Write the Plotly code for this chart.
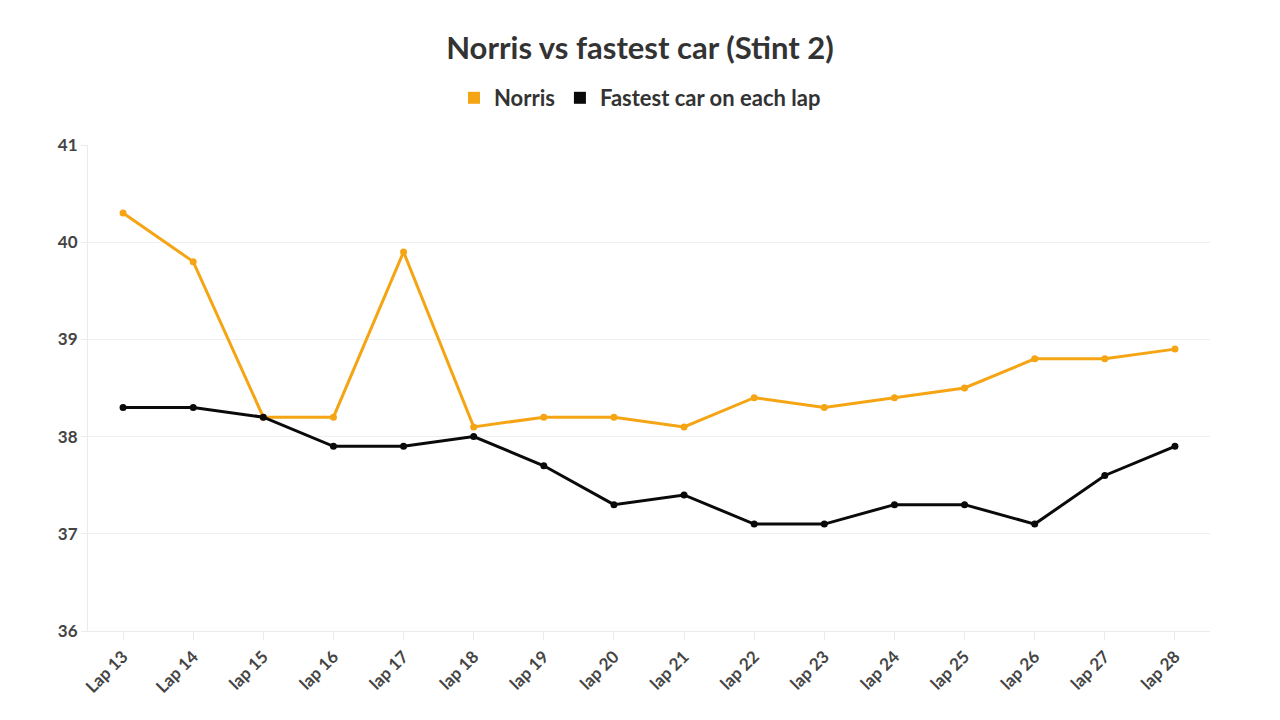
import plotly.graph_objects as go

laps = ["Lap 13", "Lap 14", "lap 15", "lap 16", "lap 17", "lap 18", "lap 19", "lap 20",
        "lap 21", "lap 22", "lap 23", "lap 24", "lap 25", "lap 26", "lap 27", "lap 28"]
norris = [40.3, 39.8, 38.2, 38.2, 39.9, 38.1, 38.2, 38.2, 38.1, 38.4, 38.3, 38.4, 38.5, 38.8, 38.8, 38.9]
fastest = [38.3, 38.3, 38.2, 37.9, 37.9, 38.0, 37.7, 37.3, 37.4, 37.1, 37.1, 37.3, 37.3, 37.1, 37.6, 37.9]
y_ticks = [36, 37, 38, 39, 40, 41]

ORANGE = "#F5A514"
BLACK = "#0a0a0a"
FONT = "Lato"

fig = go.Figure()
fig.add_trace(go.Scatter(x=laps, y=norris, mode="lines+markers", name="Norris",
                         line=dict(color=ORANGE, width=3), marker=dict(size=7, color=ORANGE),
                         showlegend=False))
fig.add_trace(go.Scatter(x=laps, y=fastest, mode="lines+markers", name="Fastest car on each lap",
                         line=dict(color=BLACK, width=3), marker=dict(size=7, color=BLACK),
                         showlegend=False))
# legend entries
fig.add_trace(go.Scatter(x=[None], y=[None], mode="markers", name="Norris",
                         marker=dict(symbol="square", size=12, color=ORANGE)))
fig.add_trace(go.Scatter(x=[None], y=[None], mode="markers", name="Fastest car on each lap",
                         marker=dict(symbol="square", size=12, color=BLACK)))

fig.update_layout(
    width=1280, height=720,
    paper_bgcolor="white", plot_bgcolor="white",
    margin=dict(l=88, r=70, t=145, b=89),
    title=dict(text="<b>Norris vs fastest car (Stint 2)</b>", x=0.5, xanchor="center",
               y=1 - 48/720, yref="container", yanchor="middle",
               font=dict(family=FONT, size=31, color="#333333")),
    legend=dict(orientation="h", x=0.5, xanchor="center", xref="container",
                y=1 - 98/720, yref="container", yanchor="middle",
                font=dict(family=FONT, size=22, color="#333333", weight="bold"),
                itemwidth=30, tracegroupgap=0),
    font=dict(family=FONT),
    showlegend=True,
)
fig.update_xaxes(
    type="category", categoryorder="array", categoryarray=laps,
    range=[-0.5, len(laps) - 0.5],
    showgrid=False, showline=True, linecolor="#ebebeb", linewidth=1,
    ticks="outside", ticklen=8, tickcolor="#ebebeb",
    tickangle=-45, tickfont=dict(family=FONT, size=17, color="#444444", weight="bold"),
    zeroline=False,
)
fig.update_yaxes(
    range=[36, 41], tickvals=y_ticks,
    showgrid=True, gridcolor="#efefef", gridwidth=1,
    showline=True, linecolor="#ebebeb", linewidth=1,
    ticks="outside", ticklen=6, tickcolor="#ebebeb",
    tickfont=dict(family=FONT, size=17, color="#444444", weight="bold"),
    zeroline=False,
)
fig.write_html("out.html")
